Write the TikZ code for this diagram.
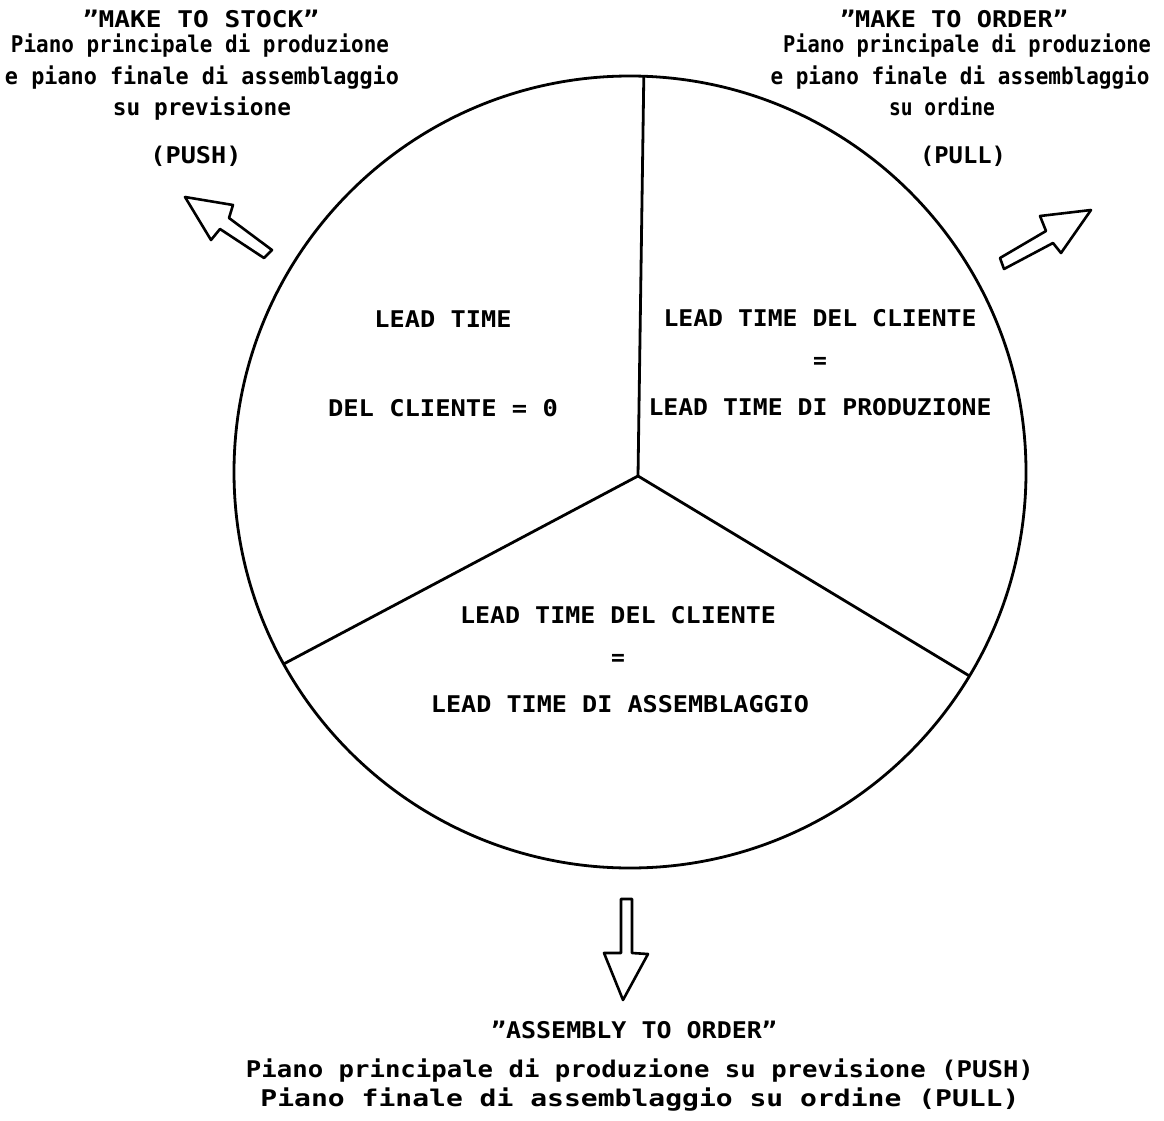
\documentclass[tikz,border=0pt]{standalone}
\usepackage{fontspec}
\usepackage{graphicx}
\newfontfamily\plotfont{DejaVu Sans Mono}
\newcommand{\fitw}[2]{\resizebox{#1pt}{\height}{#2}}
\tikzset{
  lbl/.style={anchor=base, inner sep=0pt, font={\plotfont\bfseries\fontsize{23}{26}\selectfont}},
  spoke/.style={line width=2.8pt},
  hollow/.style={line width=2.6pt, line join=round, fill=white},
}
\begin{document}
\begin{tikzpicture}[x=1pt,y=-1pt]
\useasboundingbox (0,0) rectangle (1164,1121);
\fill[white] (0,0) rectangle (1164,1121);

% circle and spokes
\node[draw, circle, minimum size=792pt, inner sep=0pt, outer sep=0pt, line width=2.8pt] (circ) at (630,472) {};
\coordinate (hub) at (638,476);
\draw[spoke] (hub) -- (circ.88);
\draw[spoke] (hub) -- (circ.209);
\draw[spoke] (hub) -- (circ.329);

% hollow arrows
\draw[hollow] (185,197) -- (233,205) -- (229,218) -- (272,250) -- (264,258) -- (220,229) -- (211,240) -- cycle;
\draw[hollow] (1091,210) -- (1040,216) -- (1046,231) -- (1000,258) -- (1004,269) -- (1053,243) -- (1061,253) -- cycle;
\draw[hollow] (621,899) -- (632,899) -- (632,953) -- (648,954) -- (623,1000) -- (604,953) -- (621,953) -- cycle;

% top left
\node[lbl] (mtsT) at (201,28) {\fitw{236}{”MAKE TO STOCK”}};
\node[lbl] (mts1) at (200,53) {\fitw{378}{Piano principale di produzione}};
\node[lbl] (mts2) at (202,85) {\fitw{394}{e piano finale di assemblaggio}};
\node[lbl] (mts3) at (202,115) {\fitw{178}{su previsione}};
\node[lbl] (mts4) at (196,163) {\fitw{91}{(PUSH)}};

% top right
\node[lbl] (mtoT) at (954,28) {\fitw{228}{”MAKE TO ORDER”}};
\node[lbl] (mto1) at (967,53) {\fitw{368}{Piano principale di produzione}};
\node[lbl] (mto2) at (960,85) {\fitw{379}{e piano finale di assemblaggio}};
\node[lbl] (mto3) at (942,115) {\fitw{106}{su ordine}};
\node[lbl] (mto4) at (963,163) {\fitw{86}{(PULL)}};

% inside sectors
\node[lbl] (s1a) at (443,327) {\fitw{137}{LEAD TIME}};
\node[lbl] (s1b) at (443,416) {\fitw{230}{DEL CLIENTE = 0}};
\node[lbl] (s2a) at (820,326) {\fitw{313}{LEAD TIME DEL CLIENTE}};
\node[lbl] (s2b) at (820,368) {=};
\node[lbl] (s2c) at (820,415) {\fitw{343}{LEAD TIME DI PRODUZIONE}};
\node[lbl] (s3a) at (618,623) {\fitw{316}{LEAD TIME DEL CLIENTE}};
\node[lbl] (s3b) at (618,665) {=};
\node[lbl] (s3c) at (620,712) {\fitw{378}{LEAD TIME DI ASSEMBLAGGIO}};

% bottom
\node[lbl] (atoT) at (634,1038) {\fitw{286}{”ASSEMBLY TO ORDER”}};
\node[lbl] (ato1) at (640,1077) {\fitw{788}{Piano principale di produzione su previsione (PUSH)}};
\node[lbl] (ato2) at (640,1106) {\fitw{759}{Piano finale di assemblaggio su ordine (PULL)}};
\end{tikzpicture}
\end{document}
